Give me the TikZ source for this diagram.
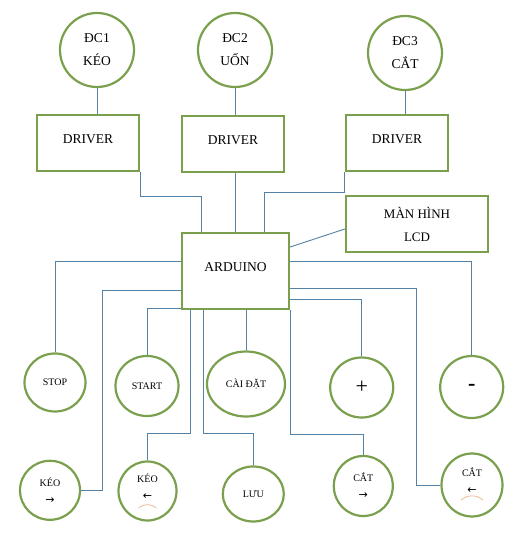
\documentclass[tikz,border=0pt]{standalone}
\usepackage{fontspec}
\setmainfont{Liberation Serif}
\newfontfamily\arrowfont{DejaVu Sans}
\usetikzlibrary{shapes.geometric,positioning}
\definecolor{boxgreen}{RGB}{122,160,78}
\definecolor{wireblue}{RGB}{84,130,166}
\definecolor{arcorange}{RGB}{236,184,150}

\tikzset{
  motor/.style={draw=boxgreen, line width=2.2pt, circle, minimum size=74pt, inner sep=0pt, align=center, font=\fontsize{13.5}{23}\selectfont},
  drvbox/.style={draw=boxgreen, line width=2.2pt, minimum width=102pt, minimum height=56pt, text height=10pt, text depth=10pt, font=\fontsize{13.5}{16}\selectfont},
  key/.style={draw=boxgreen, line width=2.2pt, ellipse, inner sep=0pt, align=center, font=\fontsize{10}{17}\selectfont},
  wire/.style={draw=wireblue, line width=0.9pt},
  smile/.style={draw=arcorange, line width=0.8pt},
}
\newcommand{\keyarrow}[1]{{\arrowfont\fontsize{11}{11}\selectfont #1}}

\begin{document}
\begin{tikzpicture}[x=1pt,y=-1pt]
    \useasboundingbox (0,0) rectangle (520,538);

    % motors and drivers
    \node[motor] (m1) at (97,50) {ĐC1\\KÉO};
    \node[motor] (m2) at (235,50) {ĐC2\\UỐN};
    \node[motor] (m3) at (405,53) {ĐC3\\CẮT};

    \node[drvbox] (d1) at (88,143) {DRIVER};
    \node[drvbox] (d2) at (233,144) {DRIVER};
    \node[drvbox] (d3) at (397,143) {DRIVER};

    \node[draw=boxgreen, line width=2.2pt, minimum width=142pt, minimum height=56pt, align=center, font=\fontsize{13}{23}\selectfont] (lcd) at (417,224) {MÀN HÌNH\\LCD};
    \node[drvbox, minimum width=107pt, minimum height=76pt] (ard) at (235.5,271) {ARDUINO};

    % buttons
    \node[key, minimum width=61pt, minimum height=58pt] (stop) at (55,382.5) {STOP};
    \node[key, minimum width=63pt, minimum height=60pt] (start) at (147,386) {START};
    \node[key, minimum width=78pt, minimum height=65pt] (setup) at (246,384) {CÀI ĐẶT};
    \node[key, minimum width=63pt, minimum height=60pt, font=\fontsize{22}{22}\selectfont] (plus) at (361.7,387.5) {+};
    \node[key, minimum width=63pt, minimum height=62pt, font=\bfseries\fontsize{22}{22}\selectfont] (minus) at (471.7,387) {-};

    \node[key, minimum width=60pt, minimum height=59pt] (keofwd) at (50,490.3) {KÉO\\\keyarrow{→}};
    \node[key, minimum width=58pt, minimum height=59pt, text depth=9pt] (keorev) at (147.5,491) {KÉO\\\keyarrow{←}};
    \node[key, minimum width=61pt, minimum height=55pt] (save) at (253.3,494) {LƯU};
    \node[key, minimum width=59pt, minimum height=60pt] (catfwd) at (363.3,486) {CẮT\\\keyarrow{→}};
    \node[key, minimum width=61pt, minimum height=63pt, text depth=9pt] (catrev) at (472,485) {CẮT\\\keyarrow{←}};

    \draw[smile] ([xshift=-9pt,yshift=-17pt]keorev.center) to[bend left=40] ([xshift=9pt,yshift=-17pt]keorev.center);
    \draw[smile] ([xshift=-11pt,yshift=-15pt]catrev.center) to[bend left=40] ([xshift=11pt,yshift=-15pt]catrev.center);

    % connections
    \draw[wire] (m1.south) -- (m1.south |- d1.north);
    \draw[wire] (m2.south) -- (m2.south |- d2.north);
    \draw[wire] (m3.south) -- (m3.south |- d3.north);

    \draw[wire] (d1.south east) -- ++(0,24) -| ([xshift=-34pt]ard.north);
    \draw[wire] (ard.north |- d2.south) -- (ard.north);
    \draw[wire] (d3.south west) -- ++(0,20) -| ([xshift=29pt]ard.north);
    \draw[wire] ([yshift=-5pt]lcd.west) -- ([yshift=24pt]ard.east);

    \draw[wire] ([yshift=9.3pt]ard.west) -| (stop.north);
    \draw[wire] ([yshift=9.3pt]ard.east) -| (minus.north);
    \draw[wire] ([yshift=-19.7pt]ard.west) -| ([xshift=21pt]keofwd.east) -- (keofwd.east);
    \draw[wire] ([yshift=-37.3pt]ard.west) -| (start.north);
    \draw[wire] ([xshift=-44.8pt]ard.south) -- ++(0,123.3) -| (keorev.north);
    \draw[wire] ([xshift=-32.2pt]ard.south) -- ++(0,123.3) -| (save.north);
    \draw[wire] (setup.north |- ard.south) -- (setup.north);
    \draw[wire] (ard.south east) -- ++(0,124.3) -| (catfwd.north);
    \draw[wire] ([yshift=-28.3pt]ard.east) -| (plus.north);
    \draw[wire] ([yshift=-17.3pt]ard.east) -| ([xshift=-24pt]catrev.west) -- (catrev.west);
\end{tikzpicture}
\end{document}
